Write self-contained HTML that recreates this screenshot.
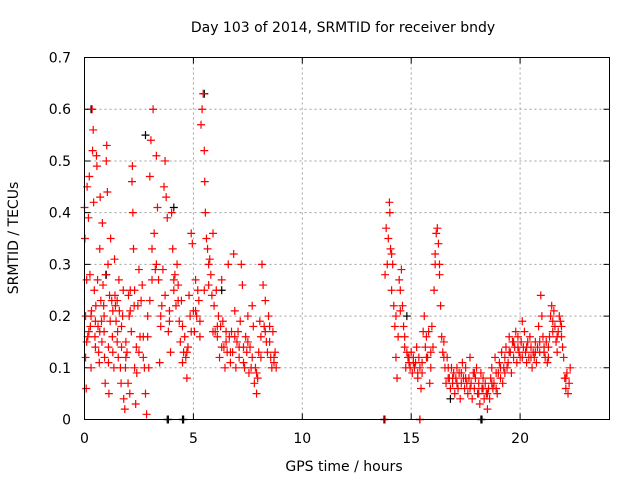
<!DOCTYPE html>
<html><head><meta charset="utf-8"><style>
body{margin:0;background:#fff;}
svg{display:block;font-family:"DejaVu Sans","Liberation Sans",sans-serif;}
</style></head><body>
<svg id="chart" width="640" height="480">
<text x="343" y="32" font-size="14" text-anchor="middle">Day 103 of 2014, SRMTID for receiver bndy</text>
<text x="344" y="471" font-size="14" text-anchor="middle">GPS time / hours</text>
<text x="18" y="238" font-size="14" text-anchor="middle" transform="rotate(-90 18 238)">SRMTID / TECUs</text>
<g id="grid"></g><g id="ticks"></g><g id="black"></g><g id="red"></g>
<rect x="84.5" y="57.5" width="525" height="362" fill="none" stroke="#000" stroke-width="1"/>
</svg>
<script>
const xTicks=[0,5,10,15,20];
const yTicks=[0,0.1,0.2,0.3,0.4,0.5,0.6,0.7];
const yTickLabels=["0","0.1","0.2","0.3","0.4","0.5","0.6","0.7"];
const redHours=[0.0,0.02,0.05,0.05,0.08,0.1,0.12,0.15,0.18,0.2,0.22,0.25,0.27,0.3,0.32,0.35,0.37,0.4,0.42,0.45,0.48,0.5,0.52,0.55,0.57,0.6,0.62,0.65,0.68,0.7,0.72,0.75,0.78,0.8,0.82,0.85,0.88,0.9,0.92,0.95,0.97,1.0,1.02,1.05,1.08,1.1,1.12,1.15,1.18,1.2,1.25,1.28,1.3,1.35,1.38,1.4,1.42,1.45,1.5,1.52,1.55,1.58,1.6,1.65,1.68,1.7,1.75,1.78,1.8,1.85,1.88,1.9,1.95,2.0,2.02,2.05,2.08,2.1,2.15,2.18,2.2,2.22,2.25,2.28,2.3,2.35,2.38,2.4,2.45,2.5,2.55,2.6,2.65,2.7,2.75,2.8,2.85,2.9,2.95,3.0,3.0,3.05,3.1,3.15,3.2,3.25,3.3,3.35,3.4,3.45,3.5,3.55,3.6,3.65,3.7,3.75,3.8,3.85,3.9,3.95,4.0,4.05,4.1,4.15,4.2,4.25,4.3,4.35,4.4,4.45,4.5,4.55,4.6,4.65,4.7,4.75,4.8,4.85,4.9,4.95,5.0,5.05,5.1,5.15,5.2,5.25,5.3,5.35,5.4,5.45,5.5,5.52,5.55,5.6,5.65,5.7,5.75,5.8,5.85,5.9,5.95,6.0,6.05,6.1,6.15,6.2,6.25,6.3,6.35,6.4,6.45,6.5,6.55,6.6,6.65,6.7,6.75,6.8,6.85,6.9,6.95,7.0,7.05,7.1,7.15,7.2,7.25,7.3,7.35,7.4,7.45,7.5,7.55,7.6,7.65,7.7,7.75,7.8,7.85,7.9,7.95,8.0,8.05,8.1,8.15,8.2,8.25,8.3,8.35,8.4,8.45,8.5,8.55,8.6,8.65,8.7,8.75,8.8,
13.8,13.8,13.85,13.9,13.95,14.0,14.02,14.05,14.1,14.15,14.2,14.25,14.3,14.35,14.4,14.45,14.5,14.55,14.6,14.65,14.7,14.75,14.8,14.85,14.9,14.95,15.0,15.05,15.1,15.15,15.2,15.25,15.3,15.35,15.4,15.4,15.45,15.5,15.55,15.6,15.65,15.7,15.75,15.8,15.85,15.9,15.95,16.0,16.05,16.1,16.15,16.2,16.25,16.3,16.35,16.4,16.45,16.5,16.55,16.6,16.65,16.7,16.75,16.8,16.85,16.9,16.95,17.0,17.05,17.1,17.15,17.2,17.25,17.3,17.35,17.4,17.45,17.5,17.55,17.6,17.65,17.7,17.75,17.8,17.85,17.9,17.95,18.0,18.05,18.1,18.15,18.2,18.25,18.3,18.35,18.4,18.45,18.5,18.55,18.6,18.65,18.7,18.75,18.8,18.85,18.9,18.95,19.0,19.05,19.1,19.15,19.2,19.25,19.3,19.35,19.4,19.45,19.5,19.55,19.6,19.65,19.7,19.75,19.8,19.85,19.9,19.95,20.0,20.05,20.1,20.15,20.2,20.25,20.3,20.35,20.4,20.45,20.5,20.55,20.6,20.65,20.7,20.75,20.8,20.85,20.9,20.95,21.0,21.05,21.1,21.15,21.2,21.25,21.3,21.35,21.4,21.45,21.5,21.55,21.6,21.65,21.7,21.75,21.8,21.85,21.9,21.95,22.0,22.05,22.1,22.15,22.2,22.25,22.3];
const redTec=[0.41,0.35,0.12,0.2,0.06,0.27,0.45,0.16,0.39,0.17,0.47,0.28,0.18,0.1,0.21,0.6,0.52,0.56,0.42,0.25,0.16,0.14,0.22,0.51,0.49,0.27,0.18,0.13,0.11,0.33,0.43,0.23,0.19,0.15,0.38,0.26,0.22,0.17,0.12,0.07,0.28,0.5,0.53,0.44,0.3,0.14,0.05,0.24,0.19,0.35,0.23,0.16,0.13,0.1,0.31,0.24,0.22,0.19,0.15,0.17,0.12,0.27,0.21,0.1,0.07,0.14,0.2,0.25,0.04,0.02,0.1,0.15,0.13,0.07,0.24,0.2,0.05,0.25,0.17,0.46,0.49,0.4,0.33,0.22,0.1,0.03,0.14,0.09,0.22,0.29,0.16,0.23,0.26,0.12,0.1,0.05,0.01,0.16,0.1,0.23,0.47,0.54,0.33,0.6,0.36,0.29,0.51,0.41,0.27,0.11,0.2,0.22,0.29,0.45,0.5,0.43,0.39,0.17,0.21,0.13,0.4,0.33,0.27,0.28,0.22,0.3,0.26,0.19,0.15,0.23,0.11,0.13,0.16,0.12,0.08,0.14,0.24,0.2,0.36,0.34,0.21,0.17,0.27,0.2,0.25,0.23,0.16,0.57,0.6,0.63,0.52,0.46,0.4,0.35,0.33,0.3,0.31,0.28,0.24,0.36,0.22,0.17,0.25,0.16,0.2,0.12,0.18,0.27,0.19,0.14,0.1,0.17,0.13,0.3,0.16,0.11,0.17,0.13,0.32,0.21,0.1,0.15,0.17,0.12,0.19,0.3,0.26,0.14,0.1,0.16,0.13,0.2,0.09,0.14,0.1,0.22,0.18,0.07,0.1,0.05,0.08,0.13,0.19,0.16,0.3,0.26,0.18,0.23,0.15,0.13,0.2,0.18,0.12,0.1,0.17,0.11,0.13,0.1,
0.0,0.28,0.37,0.3,0.35,0.42,0.4,0.33,0.25,0.3,0.22,0.18,0.12,0.08,0.16,0.27,0.25,0.29,0.22,0.18,0.14,0.1,0.13,0.12,0.11,0.1,0.13,0.09,0.12,0.1,0.11,0.14,0.08,0.12,0.0,0.1,0.06,0.09,0.17,0.2,0.14,0.16,0.12,0.17,0.07,0.1,0.18,0.14,0.25,0.3,0.36,0.37,0.34,0.28,0.22,0.16,0.13,0.15,0.1,0.07,0.12,0.1,0.08,0.06,0.1,0.07,0.09,0.05,0.08,0.1,0.06,0.09,0.04,0.07,0.11,0.08,0.06,0.1,0.07,0.05,0.08,0.12,0.07,0.04,0.09,0.06,0.08,0.1,0.05,0.07,0.03,0.09,0.06,0.08,0.04,0.07,0.05,0.02,0.06,0.04,0.08,0.1,0.06,0.07,0.12,0.09,0.05,0.09,0.11,0.08,0.13,0.07,0.1,0.12,0.14,0.1,0.11,0.16,0.13,0.09,0.15,0.12,0.14,0.17,0.11,0.16,0.13,0.12,0.15,0.19,0.14,0.17,0.13,0.11,0.15,0.12,0.16,0.14,0.1,0.13,0.12,0.15,0.11,0.14,0.18,0.13,0.24,0.2,0.16,0.13,0.12,0.15,0.11,0.14,0.16,0.2,0.22,0.19,0.21,0.18,0.15,0.13,0.17,0.2,0.19,0.16,0.14,0.12,0.08,0.06,0.09,0.05,0.07,0.1];
const redHoursB=[0.1,0.3,0.5,0.7,0.9,1.1,1.3,1.5,1.7,1.9,2.1,2.3,2.5,2.7,2.9,3.1,3.3,3.5,3.7,3.9,4.1,4.3,4.5,4.7,4.9,5.1,5.3,5.5,5.7,5.9,6.1,6.3,6.5,6.7,6.9,7.1,7.3,7.5,7.7,7.9,8.1,8.3,8.5,8.7,14.1,14.3,14.5,14.7,14.9,15.1,15.3,15.5,15.7,15.9,16.1,16.3,16.5,16.7,16.9,17.1,17.3,17.5,17.7,17.9,18.1,18.3,18.5,18.7,18.9,19.1,19.3,19.5,19.7,19.9,20.1,20.3,20.5,20.7,20.9,21.1,21.3,21.5,21.7,21.9,22.1];
const redTecB=[0.15,0.2,0.19,0.17,0.2,0.11,0.21,0.23,0.18,0.12,0.21,0.25,0.13,0.16,0.2,0.27,0.3,0.18,0.24,0.19,0.25,0.23,0.18,0.13,0.17,0.21,0.19,0.25,0.26,0.17,0.18,0.14,0.15,0.13,0.16,0.14,0.11,0.15,0.12,0.09,0.12,0.17,0.15,0.12,0.32,0.2,0.21,0.16,0.12,0.11,0.09,0.11,0.12,0.13,0.32,0.3,0.12,0.08,0.08,0.07,0.09,0.08,0.06,0.09,0.05,0.06,0.05,0.07,0.06,0.1,0.09,0.13,0.15,0.14,0.12,0.14,0.12,0.13,0.15,0.14,0.12,0.17,0.16,0.18,0.08];
const blackHours=[0.3,2.8,4.1,5.5,3.8,3.85,4.5,4.55,13.75,15.4,18.2,18.25,14.8,16.8,1.0,6.3];
const blackTec=[0.6,0.55,0.41,0.63,0,0,0,0,0,0,0,0,0.2,0.04,0.28,0.25];
const X=h=>84.5+h*21.78, Y=v=>419.5-v*517.1;
const NS="http://www.w3.org/2000/svg";
function mk(tag,attrs,parent){const e=document.createElementNS(NS,tag);for(const k in attrs)e.setAttribute(k,attrs[k]);document.getElementById(parent).appendChild(e);return e;}
xTicks.forEach(t=>{const x=X(t);
 if(t>0){const g=mk('line',{x1:x,x2:x,y1:57.5,y2:419.5,stroke:'#a0a0a0','stroke-dasharray':'2,3'},'grid');
 
 }
 const tk=mk('path',{d:`M${x} 419.5v-6M${x} 57.5v6`,stroke:'#000'},'ticks');
 
 
 const l=mk('text',{x:x,y:443,'font-size':14,'text-anchor':'middle'},'ticks');l.textContent=t;
 
 });
yTicks.forEach((t,i)=>{const y=Y(t);
 if(t>0&&t<0.7){const g=mk('line',{x1:84.5,x2:609.5,y1:y,y2:y,stroke:'#a0a0a0','stroke-dasharray':'2,3'},'grid');
 
 }
 const tk=mk('path',{d:`M84.5 ${y}h6M609.5 ${y}h-6`,stroke:'#000'},'ticks');
 
 
 const l=mk('text',{x:71,y:y+5,'font-size':14,'text-anchor':'end'},'ticks');l.textContent=yTickLabels[i];
 
 });
function plus(h,v,col,parent,name){const x=X(h),y=Y(v);
 const p=mk('path',{d:`M${x-4} ${y}h8M${x} ${y-4}v8`,stroke:col,'stroke-width':1.2},parent);
 
 }
blackHours.forEach((h,i)=>plus(h,blackTec[i],'#000','black','black-point'));
redHours.forEach((h,i)=>plus(h,redTec[i],'#f00','red','red-point'));
redHoursB.forEach((h,i)=>plus(h,redTecB[i],'#f00','red','red-point'));
</script>
</body></html>
